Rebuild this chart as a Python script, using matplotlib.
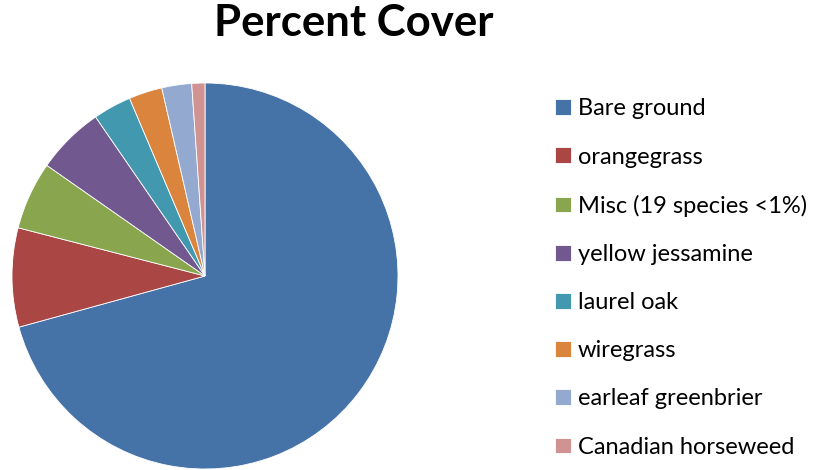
import matplotlib
matplotlib.use("Agg")
import matplotlib.pyplot as plt

labels = ["Bare ground", "orangegrass", "Misc (19 species <1%)", "yellow jessamine",
          "laurel oak", "wiregrass", "earleaf greenbrier", "Canadian horseweed"]
values = [70.8, 8.3, 5.7, 5.7, 3.2, 2.8, 2.5, 1.1]
colors = ["#4572A7", "#AA4643", "#89A54E", "#71588F", "#4198AF", "#DB843D", "#93A9CF", "#D19392"]

plt.rcParams['font.family'] = ['Lato', 'DejaVu Sans']

fig = plt.figure(figsize=(8.15, 4.7), dpi=100)
W, H = 815, 470
cx, cy, r = 205, 276, 193
ax = fig.add_axes([(cx - r) / W, (H - cy - r) / H, 2 * r / W, 2 * r / H])
wedges, _ = ax.pie(values, colors=colors, startangle=90, counterclock=False,
                   wedgeprops=dict(edgecolor="white", linewidth=0.6))
ax.set_xlim(-1, 1)
ax.set_ylim(-1, 1)
ax.set_aspect("equal")

fig.text(354 / W, 1 - 23 / H, "Percent Cover", ha="center", va="center",
         fontsize=31.5, fontweight="bold")

fig.legend(wedges, labels, loc="upper left", bbox_to_anchor=(546 / W, 1 - 89 / H),
           frameon=False, fontsize=17, handlelength=0.64, handleheight=0.64,
           handletextpad=0.3, labelspacing=1.15, borderaxespad=0)

fig.savefig("out.png", dpi=100)
